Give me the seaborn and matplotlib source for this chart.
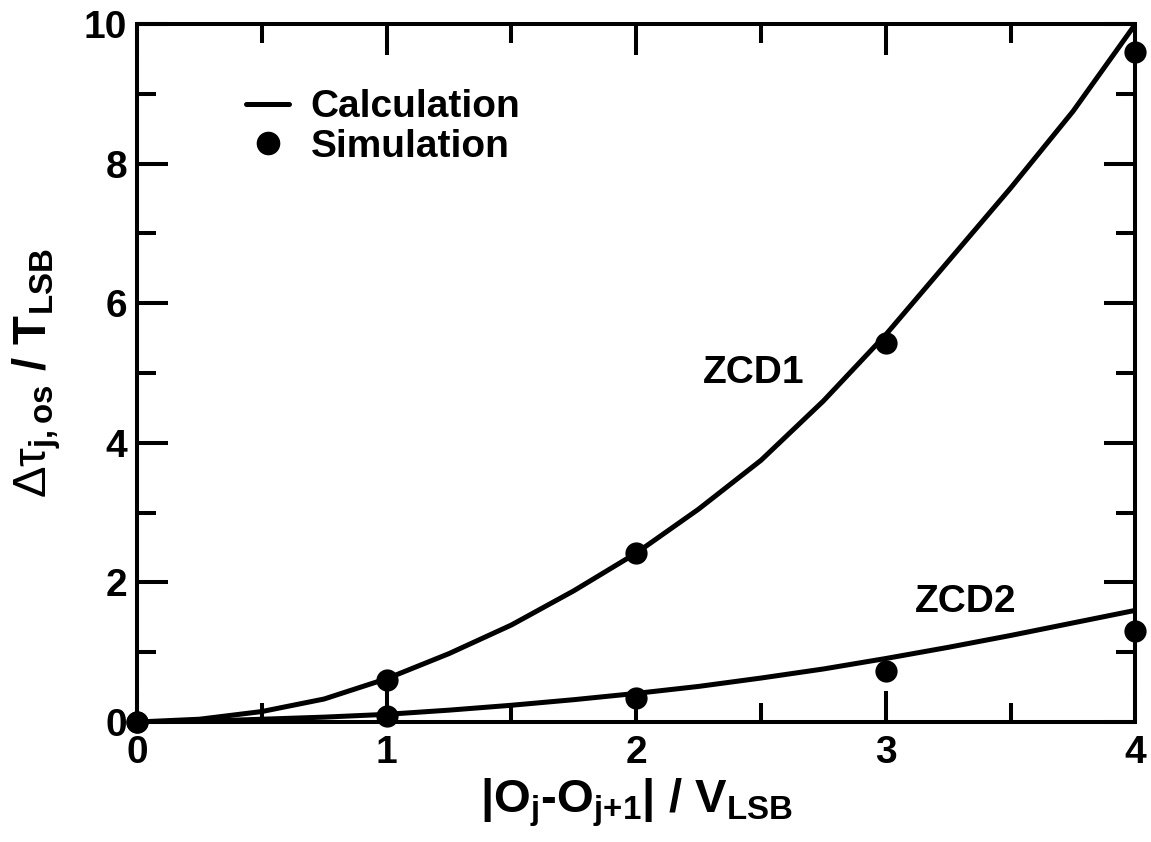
import matplotlib
matplotlib.use("Agg")
import numpy as np
import pandas as pd
import seaborn as sns
import matplotlib.pyplot as plt
from matplotlib.lines import Line2D
from matplotlib.ticker import MultipleLocator

# ---------------- data ----------------
calc_x = [0, 0.25, 0.5, 0.75, 1.0, 1.25, 1.5, 1.75, 2.0, 2.25, 2.5, 2.75, 3.0, 3.25, 3.5, 3.75, 4.0]
calc_zcd1 = [0, 0.04, 0.15, 0.33, 0.62, 0.98, 1.39, 1.88, 2.42, 3.05, 3.75, 4.6, 5.55, 6.6, 7.65, 8.75, 10.0]
calc_zcd2 = [0, 0.01, 0.04, 0.07, 0.11, 0.17, 0.24, 0.32, 0.41, 0.51, 0.63, 0.76, 0.91, 1.07, 1.24, 1.42, 1.6]

sim_x = [0, 1, 2, 3, 4]
sim_zcd1 = [0, 0.6, 2.42, 5.43, 9.6]
sim_zcd2 = [0, 0.09, 0.35, 0.73, 1.3]

curve_labels = ["ZCD1", "ZCD2"]
x_label = r"$\mathbf{|O_{j}}$-$\mathbf{O_{j{+}1}|}$ / V$_{\mathbf{LSB}}$"
y_label = r"$\mathrm{\Delta\tau}_{\mathbf{j,os}}\mathbf{\ /\ T}_{\mathbf{LSB}}$"
legend_labels = ["Calculation", "Simulation"]

calc_df = pd.DataFrame({
    "x": calc_x + calc_x,
    "y": calc_zcd1 + calc_zcd2,
    "curve": ["ZCD1"] * len(calc_x) + ["ZCD2"] * len(calc_x),
})
sim_df = pd.DataFrame({
    "x": sim_x + sim_x,
    "y": sim_zcd1 + sim_zcd2,
    "curve": ["ZCD1"] * len(sim_x) + ["ZCD2"] * len(sim_x),
})

# ---------------- style ----------------
sns.set_theme(style="ticks")
plt.rcParams["font.family"] = ["Liberation Sans", "DejaVu Sans"]
plt.rcParams["font.weight"] = "bold"
plt.rcParams["text.color"] = "black"
plt.rcParams["axes.labelcolor"] = "black"
plt.rcParams["xtick.color"] = "black"
plt.rcParams["ytick.color"] = "black"
plt.rcParams["mathtext.fontset"] = "custom"
plt.rcParams["mathtext.rm"] = "Liberation Sans:weight=normal"
plt.rcParams["mathtext.it"] = "Liberation Sans:italic:weight=normal"
plt.rcParams["mathtext.bf"] = "Liberation Sans:weight=bold"
plt.rcParams["mathtext.fallback"] = "cm"

fig = plt.figure(figsize=(11.51, 8.42), dpi=100)
ax = fig.add_axes([0.119, 0.1425, 0.8675, 0.829])

lw = 3.6
for name in curve_labels:
    sns.lineplot(data=calc_df[calc_df["curve"] == name], x="x", y="y",
                 color="black", linewidth=lw, estimator=None, sort=False,
                 ax=ax, legend=False)
sns.scatterplot(data=sim_df, x="x", y="y", color="black", s=256,
                edgecolor="black", linewidth=0, ax=ax, legend=False, zorder=5)
for coll in ax.collections:
    coll.set_clip_on(False)

ax.set_xlim(0, 4)
ax.set_ylim(0, 10)
ax.xaxis.set_major_locator(MultipleLocator(1))
ax.xaxis.set_minor_locator(MultipleLocator(0.5))
ax.yaxis.set_major_locator(MultipleLocator(2))
ax.yaxis.set_minor_locator(MultipleLocator(1))

for sp in ax.spines.values():
    sp.set_visible(True)
    sp.set_linewidth(2.9)
    sp.set_color("black")

ax.tick_params(which="both", direction="in", top=True, right=True,
               color="black", width=2.9)
ax.tick_params(which="major", length=22)
ax.tick_params(which="minor", length=14)
ax.tick_params(axis="x", which="major", labelsize=28, pad=9, labelcolor="black")
ax.tick_params(axis="y", which="major", labelsize=28, pad=7, labelcolor="black")
for lab in ax.get_xticklabels() + ax.get_yticklabels():
    lab.set_fontweight("bold")

ax.set_xlabel(x_label, fontsize=34, fontweight="bold", labelpad=4, color="black")
ax.set_ylabel(y_label, fontsize=34, fontweight="normal", labelpad=15, color="black")

ax.text(2.47, 5.0, curve_labels[0], fontsize=28, fontweight="bold",
        ha="center", va="center", color="black")
ax.text(3.32, 1.72, curve_labels[1], fontsize=28, fontweight="bold",
        ha="center", va="center", color="black")

handles = [Line2D([], [], color="black", linewidth=lw),
           Line2D([], [], color="black", marker="o", linestyle="", markersize=16)]
leg = ax.legend(handles, legend_labels, loc="upper left",
                bbox_to_anchor=(0.094, 0.929), frameon=False,
                prop={"size": 28, "weight": "bold"},
                handlelength=1.1, handletextpad=0.55, labelspacing=0.1,
                borderaxespad=0)
for t in leg.get_texts():
    t.set_color("black")

fig.savefig("out.png", dpi=100, facecolor="white")
